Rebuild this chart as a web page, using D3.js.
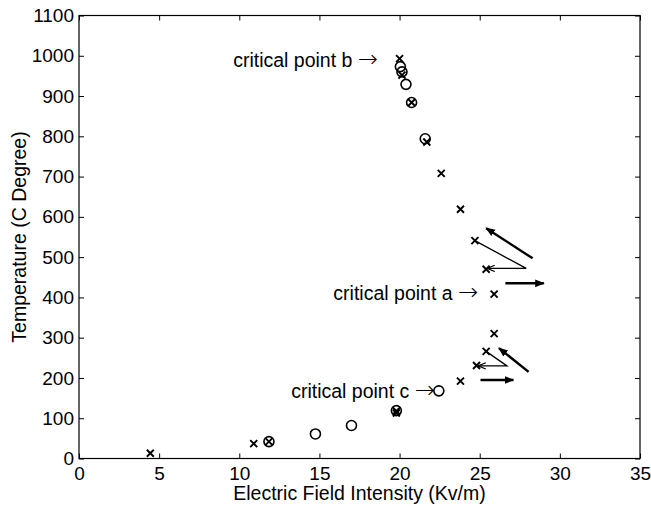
<!DOCTYPE html>
<html lang="en">
<head>
<meta charset="utf-8">
<title>Temperature vs Electric Field</title>
<script src="https://d3js.org/d3.v7.min.js"></script>
<style>
  body { margin: 0; background: #fff; }
  text { font-family: "Liberation Sans", Arial, sans-serif; fill: #000; }
  .arr { font-family: "DejaVu Sans", sans-serif; font-weight: 200; }
</style>
</head>
<body>
<div id="chart"></div>
<script>
// data: [field (Kv/m), temperature (C)]
var crossPts = [[4.45, 13], [10.9, 37], [11.85, 42], [19.8, 113], [19.8, 118],
  [23.8, 192], [24.8, 231], [25.4, 266], [25.9, 310], [25.9, 408], [25.4, 470],
  [24.7, 541], [23.8, 619], [22.6, 708], [21.7, 786], [20.75, 884], [20.15, 952], [20.0, 993]];
var circlePts = [[11.85, 42], [14.75, 61], [17.0, 82], [19.8, 119], [22.45, 168],
  [21.6, 794], [20.75, 884], [20.4, 929], [20.15, 960], [20.05, 973]];

// annotation arrows (data units)
var thickArrows = [
  [[28.3, 497], [25.4, 572]],
  [[26.6, 435], [29.0, 435]],
  [[28.05, 215], [26.2, 274]],
  [[25.05, 195], [27.1, 195]]
];
var thinArrows = [
  [[24.7, 541], [27.9, 472], [25.5, 472]],
  [[25.4, 266], [26.7, 230], [24.95, 230]]
];
var labels = [
  {text: "critical point b", x: 18.65, y: 973},
  {text: "critical point a", x: 24.9, y: 394},
  {text: "critical point c", x: 22.2, y: 150}
];

var xTicks = [0, 5, 10, 15, 20, 25, 30, 35];
var yTicks = [0, 100, 200, 300, 400, 500, 600, 700, 800, 900, 1000, 1100];

var w = 651, h = 506;
var mLeft = 79, mRight = 640, mTop = 15.5, mBottom = 458.5;

var x = d3.scaleLinear().domain([0, 35]).range([mLeft, mRight]);
var y = d3.scaleLinear().domain([0, 1100]).range([mBottom, mTop]);

var svg = d3.select("#chart").append("svg")
  .attr("width", w).attr("height", h);

var defs = svg.append("defs");
defs.append("marker")
  .attr("id", "head")
  .attr("viewBox", "0 0 10 10")
  .attr("refX", 9).attr("refY", 5)
  .attr("markerWidth", 4).attr("markerHeight", 4)
  .attr("markerUnits", "strokeWidth")
  .attr("orient", "auto")
  .append("path").attr("d", "M0,1 L10,5 L0,9 z").attr("fill", "#000");

defs.append("marker")
  .attr("id", "headThin")
  .attr("viewBox", "0 0 10 10")
  .attr("refX", 9).attr("refY", 5)
  .attr("markerWidth", 6).attr("markerHeight", 6)
  .attr("markerUnits", "strokeWidth")
  .attr("orient", "auto")
  .append("path").attr("d", "M0,1 L10,5 L0,9").attr("fill", "none")
  .attr("stroke", "#000").attr("stroke-width", 1.5);

function styleAxis(g) {
  g.select(".domain").remove();
  g.selectAll(".tick line").attr("stroke", "#000");
  g.selectAll(".tick text").style("font-size", "19px");
}

// axes with inward ticks
svg.append("g").attr("transform", "translate(0," + mBottom + ")")
  .call(d3.axisBottom(x).tickValues(xTicks).tickSize(-5).tickPadding(8).tickFormat(d3.format("d")))
  .call(styleAxis);
svg.append("g").attr("transform", "translate(0," + mTop + ")")
  .call(d3.axisTop(x).tickValues(xTicks).tickSize(-5).tickFormat(""))
  .call(styleAxis);
svg.append("g").attr("transform", "translate(" + mLeft + ",0)")
  .call(d3.axisLeft(y).tickValues(yTicks).tickSize(-5).tickPadding(5).tickFormat(d3.format("d")))
  .call(styleAxis);
svg.append("g").attr("transform", "translate(" + mRight + ",0)")
  .call(d3.axisRight(y).tickValues(yTicks).tickSize(-5).tickFormat(""))
  .call(styleAxis);

svg.append("rect")
  .attr("x", mLeft).attr("y", mTop)
  .attr("width", mRight - mLeft).attr("height", mBottom - mTop)
  .attr("fill", "none").attr("stroke", "#000").attr("stroke-width", 1.2);

// axis titles
svg.append("text")
  .attr("x", (mLeft + mRight) / 2).attr("y", 500)
  .attr("text-anchor", "middle").style("font-size", "19.5px")
  .text("Electric Field Intensity (Kv/m)");
svg.append("text")
  .attr("transform", "translate(26," + (mTop + mBottom) / 2 + ") rotate(-90)")
  .attr("text-anchor", "middle").style("font-size", "19.5px")
  .text("Temperature (C Degree)");

// circles
svg.append("g").selectAll("circle")
  .data(circlePts).enter().append("circle")
  .attr("cx", d => x(d[0])).attr("cy", d => y(d[1]))
  .attr("r", 5)
  .attr("fill", "none").attr("stroke", "#000").attr("stroke-width", 1.6);

// crosses
var s = 3.5;
svg.append("g").selectAll("path")
  .data(crossPts).enter().append("path")
  .attr("d", function(d) {
    var cx = x(d[0]), cy = y(d[1]);
    return "M" + (cx - s) + "," + (cy - s) + "L" + (cx + s) + "," + (cy + s) +
      "M" + (cx - s) + "," + (cy + s) + "L" + (cx + s) + "," + (cy - s);
  })
  .attr("stroke", "#000").attr("stroke-width", 1.9).attr("fill", "none");

// arrows
var line = d3.line().x(d => x(d[0])).y(d => y(d[1]));
svg.append("g").selectAll("path")
  .data(thickArrows).enter().append("path")
  .attr("d", line)
  .attr("stroke", "#000").attr("stroke-width", 2.4).attr("fill", "none")
  .attr("marker-end", "url(#head)");
svg.append("g").selectAll("path")
  .data(thinArrows).enter().append("path")
  .attr("d", line)
  .attr("stroke", "#000").attr("stroke-width", 1.3).attr("fill", "none")
  .attr("marker-end", "url(#headThin)");

// labels, each ending in a long thin arrow
var lab = svg.append("g").selectAll("text")
  .data(labels).enter().append("text")
  .attr("x", d => x(d.x)).attr("y", d => y(d.y))
  .attr("text-anchor", "end").style("font-size", "19.5px");
lab.append("tspan").text(d => d.text + " ");
lab.append("tspan").attr("class", "arr").style("font-size", "24px").text("\u2192");
</script>
</body>
</html>
